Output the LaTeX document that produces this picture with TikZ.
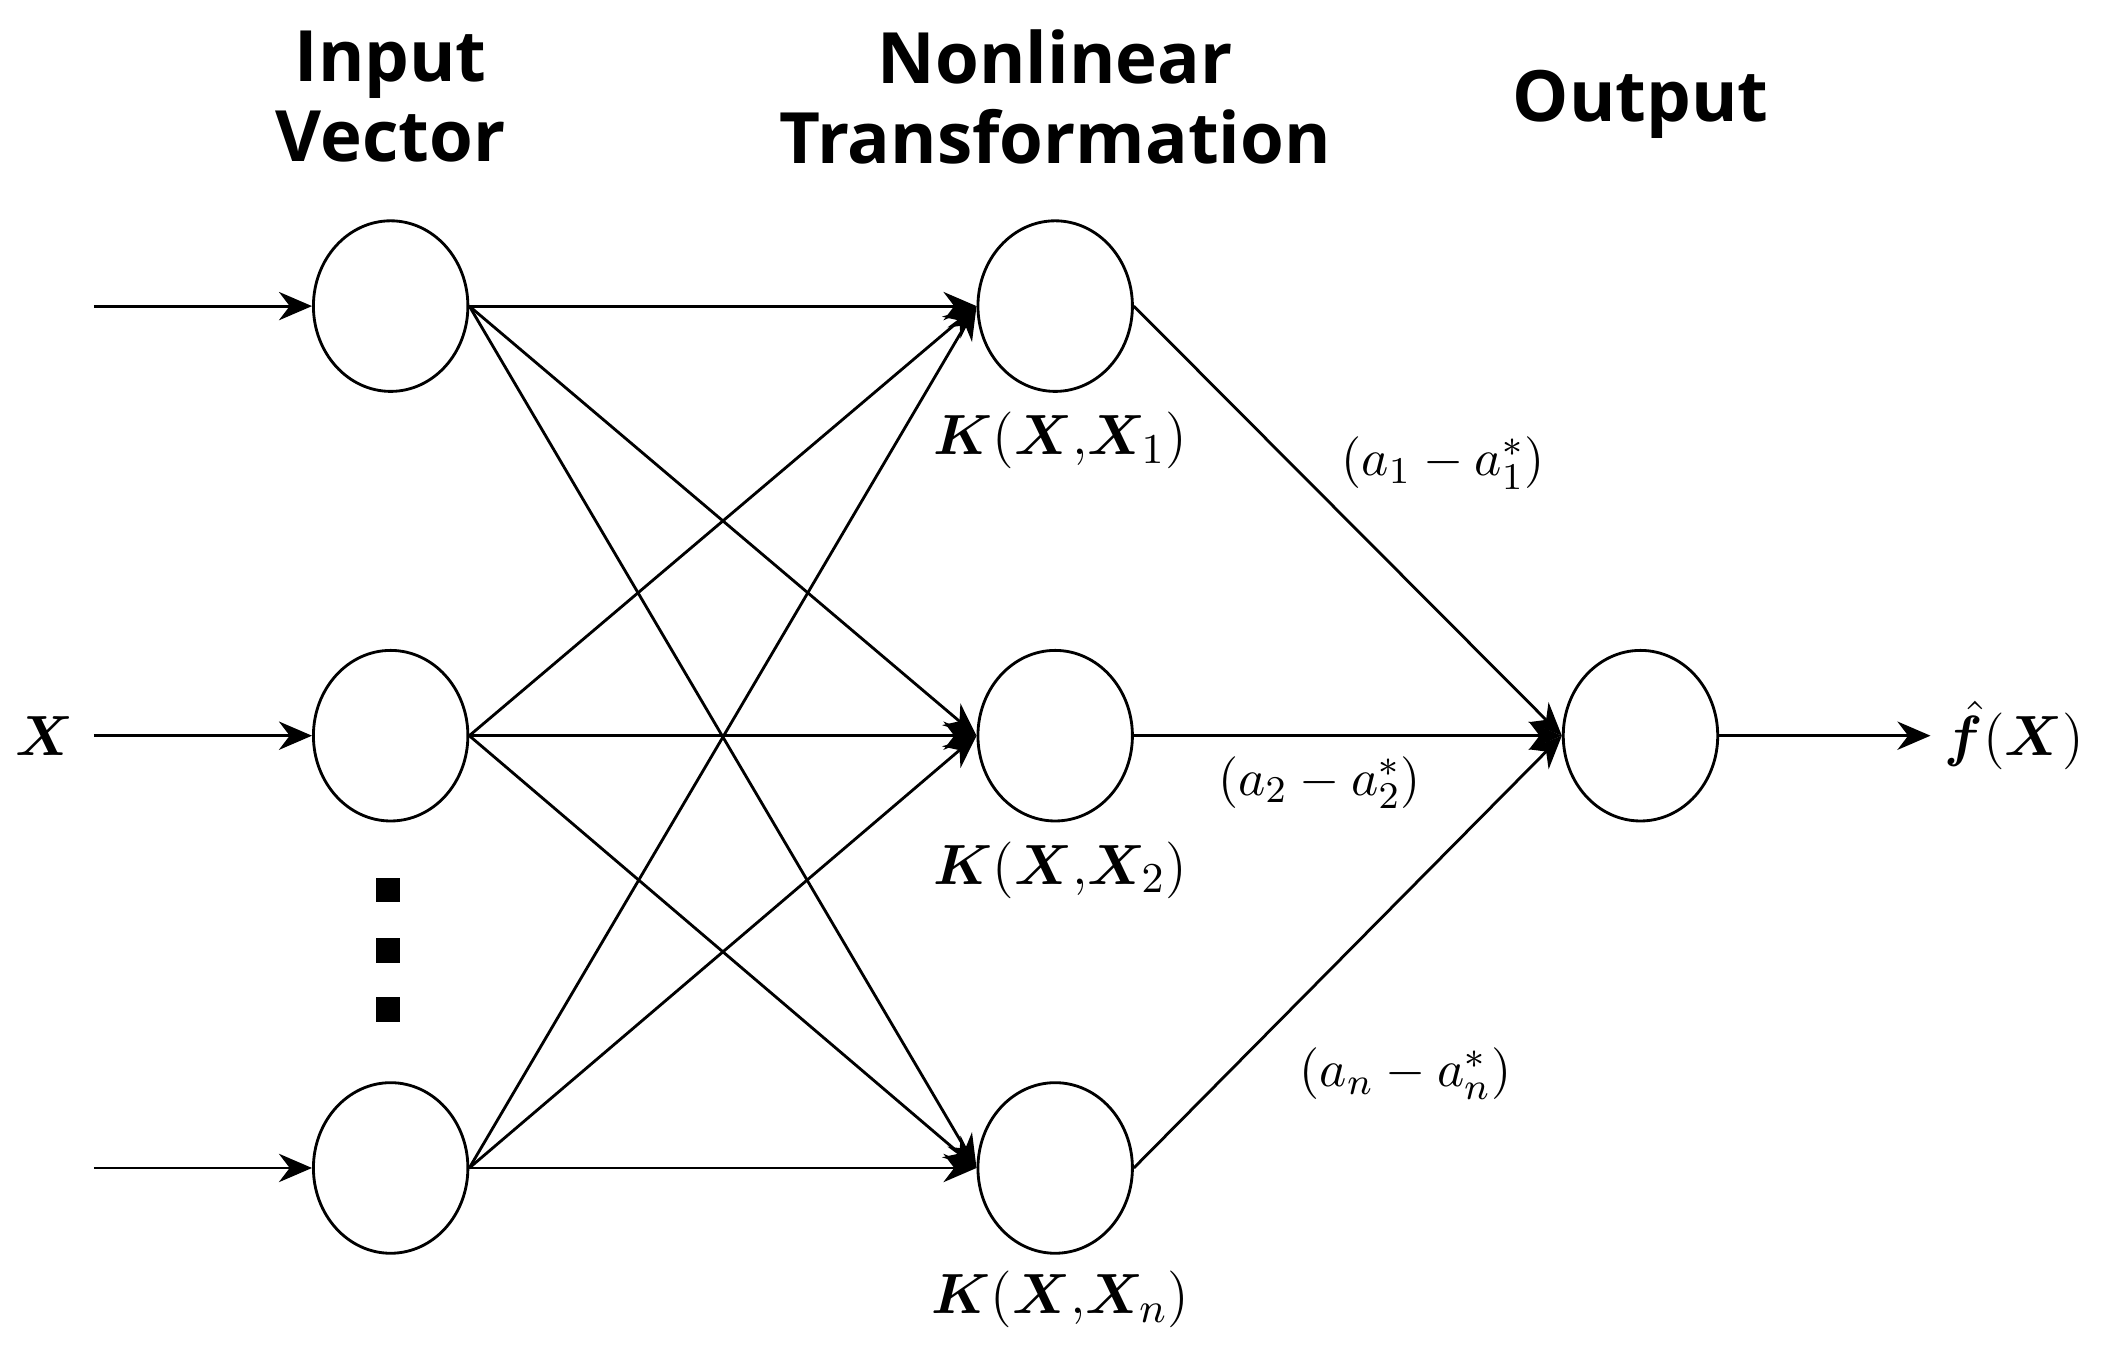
\documentclass[tikz,border=0pt]{standalone}
\usepackage{fontspec}
\usepackage{amsmath,bm}
\newfontfamily\hdr{Open Sans}
\usetikzlibrary{arrows.meta,shapes.geometric}
\begin{document}
\begin{tikzpicture}[x=0.01cm,y=-0.01cm,
  neuron/.style={draw,ellipse,minimum width=1.15cm,minimum height=1.27cm,inner sep=0pt,line width=0.6pt},
  arr/.style={-{Stealth[length=7pt,width=6pt]},line width=0.6pt},
  head/.style={font=\hdr\bfseries\fontsize{15}{17}\selectfont,align=center},
  lab/.style={font=\fontsize{13}{15}\selectfont},
  wt/.style={font=\fontsize{11}{13}\selectfont}]
\useasboundingbox (0,0) rectangle (1568,1020);
\node[neuron] (i1) at (291,228) {};
\node[neuron] (i2) at (291,548) {};
\node[neuron] (i3) at (291,870) {};
\node[neuron] (m1) at (786,228) {};
\node[neuron] (m2) at (786,548) {};
\node[neuron] (m3) at (786,870) {};
\node[neuron] (o) at (1222,548) {};
\coordinate (s1) at (70,228);
\coordinate (s2) at (70,548);
\coordinate (s3) at (70,870);
\coordinate (e) at (1438,548);
\foreach \k in {1,2,3}{\draw[arr] (s\k) -- (i\k.west);}
\foreach \a in {1,2,3}{\foreach \b in {1,2,3}{\draw[arr] (i\a.east) -- (m\b.west);}}
\foreach \b in {1,2,3}{\draw[arr] (m\b.east) -- (o.west);}
\draw[arr] (o.east) -- (e);
\node[head] (h1) at (291,72) {Input\\Vector};
\node[head] (h2) at (786,72) {Nonlinear\\Transformation};
\node[head] (h3) at (1222,78) {Output};
\node[lab] (xl) at (33,548) {$\bm{X}$};
\node[lab,anchor=west,inner sep=0pt] (fl) at (1448,548) {$\hat{\bm{f}}(\bm{X})$};
\node[lab] (k1) at (790,328) {$\bm{K}(\bm{X}{,}\bm{X}_1)$};
\node[lab] (k2) at (790,648) {$\bm{K}(\bm{X}{,}\bm{X}_2)$};
\node[lab] (k3) at (790,968) {$\bm{K}(\bm{X}{,}\bm{X}_n)$};
\node[wt] (w1) at (1075,345) {$(a_1-a_1^*)$};
\node[wt] (w2) at (983,583) {$(a_2-a_2^*)$};
\node[wt] (w3) at (1047,800) {$(a_n-a_n^*)$};
\foreach \y in {663,708,752}{\fill (280,\y-9) rectangle (298,\y+9);}
\end{tikzpicture}
\end{document}
